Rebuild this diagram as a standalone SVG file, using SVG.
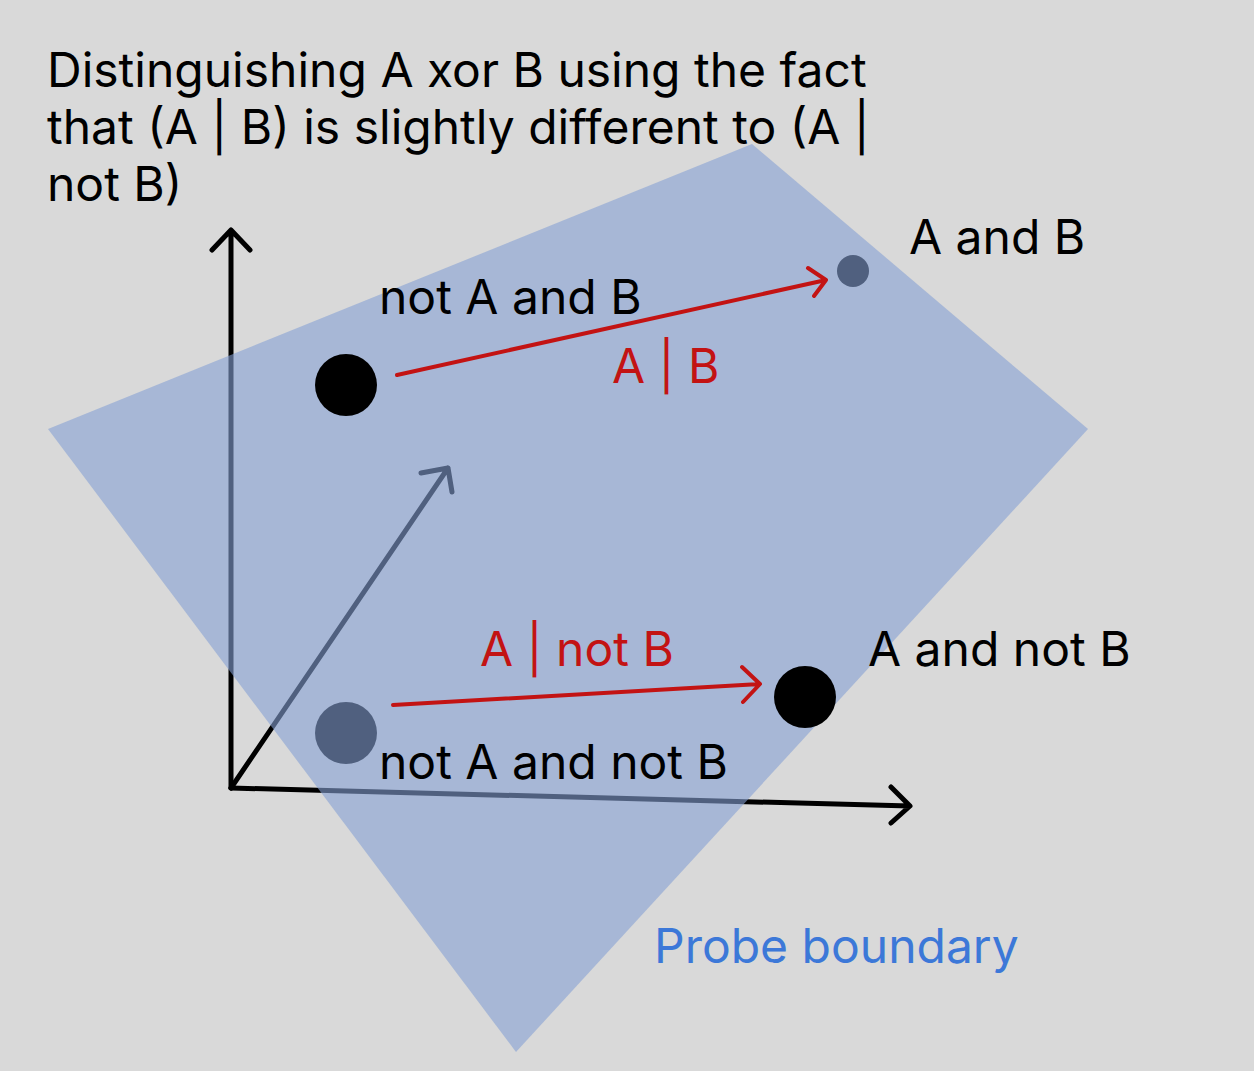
<svg xmlns="http://www.w3.org/2000/svg" width="1254" height="1071" viewBox="0 0 1254 1071">
<style>
.t{font-family:Inter,"Liberation Sans",sans-serif;font-size:48px;fill:#000}
.r{fill:#c31313}
.b{fill:#3c78d8}
.ax{stroke:#000;stroke-width:5;fill:none;stroke-linecap:round;stroke-linejoin:round}
.ra{stroke:#c31313;stroke-width:4;fill:none;stroke-linecap:round;stroke-linejoin:round}
</style>
<rect width="1254" height="1071" fill="#d9d9d9"/>
<g id="connectors">
<g id="axes">
<path class="ax" d="M231,788 L231,230 M212,250 L231,230 L250,250"/>
<path class="ax" d="M231,788 L910,806 M891,787 L910,806 L891,823"/>
<path class="ax" d="M231,788 L448,468 M421,473 L448,468 L452,492"/>
</g>
</g>
<g id="node-notAnotB"><circle cx="346" cy="733" r="31" fill="#000"/></g>
<g id="node-AB"><circle cx="853" cy="271" r="16" fill="#000"/></g>
<g id="probe-plane"><polygon points="48,429 752,144 1088,429 516,1052" fill="rgb(133,160,212)" fill-opacity="0.6"/></g>
<g id="node-notAB"><circle cx="346" cy="385" r="31" fill="#000"/></g>
<g id="node-AnotB"><circle cx="805" cy="697" r="31" fill="#000"/></g>
<g id="red-arrows">
<path class="ra" d="M397,375 L826,280 M808,268 L826,280 L814,296"/>
<path class="ra" d="M393,705 L760,684 M742,667 L760,684 L743,702"/>
</g>
<g id="labels">
<text class="t" x="47" y="87">Distinguishing A xor B using the fact</text>
<text class="t" x="47" y="144">that (A | B) is slightly different to (A |</text>
<text class="t" x="47" y="201">not B)</text>
<text class="t" x="909" y="254">A and B</text>
<text class="t" x="379" y="314">not A and B</text>
<text class="t r" x="612" y="383">A | B</text>
<text class="t r" x="480" y="666">A | not B</text>
<text class="t" x="868" y="666">A and not B</text>
<text class="t" x="379" y="779">not A and not B</text>
<text class="t b" x="654" y="963">Probe boundary</text>
</g>
</svg>
